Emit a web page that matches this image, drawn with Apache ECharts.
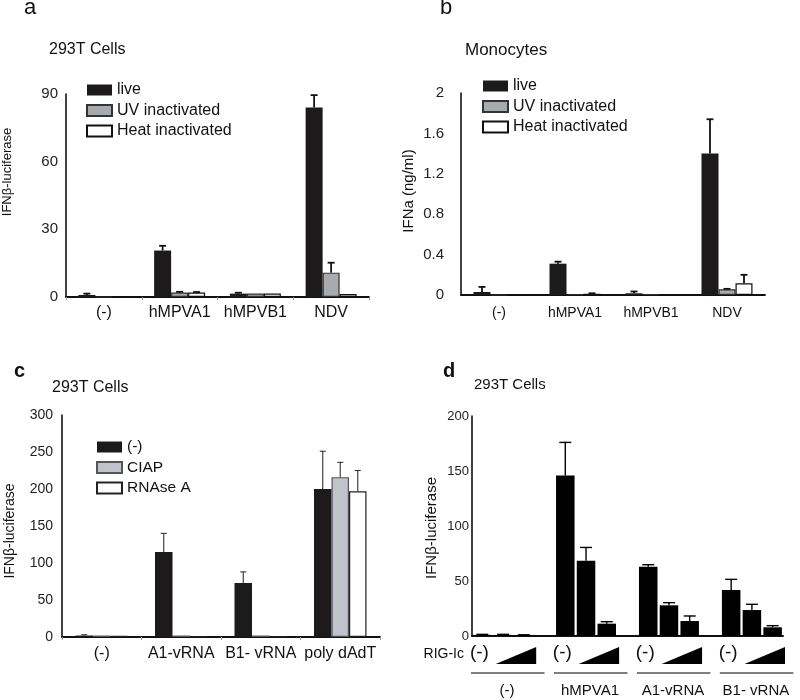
<!DOCTYPE html>
<html>
<head>
  <meta charset="utf-8">
  <title>IFN induction by hMPV</title>
  <script src="https://cdn.jsdelivr.net/npm/echarts@6/dist/echarts.min.js"></script>
  <style>html, body { margin: 0; padding: 0; background: #fff; }</style>
</head>
<body>
  <div id="main" style="width: 800px; height: 700px;"></div>
  <script type="text/javascript">
    // ---- panel a : 293T cells, IFNb-luciferase ----
    var catsA = ['(-)', 'hMPVA1', 'hMPVB1', 'NDV'];
    var liveA = [0.9, 20.6, 1.5, 84];
    var liveErrA = [0.6, 2.1, 0.4, 5.5];
    var uvA = [0, 2, 1.5, 10.8];
    var uvErrA = [0, 0.3, 0, 4.4];
    var heatA = [0, 2, 1.5, 1.3];
    var heatErrA = [0, 0.2, 0, 0];

    // ---- panel b : monocytes, IFNa (ng/ml) ----
    var catsB = ['(-)', 'hMPVA1', 'hMPVB1', 'NDV'];
    var liveB = [0.03, 0.31, 0.017, 1.40];
    var liveErrB = [0.05, 0.02, 0.018, 0.34];
    var uvB = [0, 0.005, 0.01, 0.056];
    var uvErrB = [0, 0, 0, 0.005];
    var heatB = [0, 0.012, 0.004, 0.116];
    var heatErrB = [0, 0.005, 0, 0.084];

    // ---- panel c : 293T cells, treated RNA ----
    var catsC = ['(-)', 'A1-vRNA', 'B1- vRNA', 'poly dAdT'];
    var negC = [2, 115, 73, 200];
    var negErrC = [1, 25, 15, 51];
    var ciapC = [2, 2, 2, 216];
    var ciapErrC = [0, 0, 0, 20];
    var rnaseC = [1.5, 1, 1, 197];
    var rnaseErrC = [0, 0, 0, 28];

    // ---- panel d : 293T cells, RIG-Ic dose ----
    var groupsD = ['(-)', 'hMPVA1', 'A1-vRNA', 'B1- vRNA'];
    var rigNoneD = [1, 146, 63, 41.8];
    var rigLowD = [1, 68.5, 27.9, 23.6];
    var rigHighD = [0.8, 11.2, 13.6, 7.9];
    var rigNoneErrD = [0.5, 30, 1.8, 9.7];
    var rigLowErrD = [0.5, 12, 2.4, 5.2];
    var rigHighErrD = [0.3, 1.8, 4.6, 1.5];

    var FONT = 'Liberation Sans, Arial, sans-serif';
    var BLACK = '#1c1a1b';
    var myChart = echarts.init(document.getElementById('main'));

    // 15 slots for d: 3 bars per group + an empty slot between groups
    var slotsD = [], valsD = [], errDataD = [];
    groupsD.forEach(function (g, i) {
      [[rigNoneD, rigNoneErrD], [rigLowD, rigLowErrD], [rigHighD, rigHighErrD]].forEach(function (p, k) {
        var s = slotsD.length;
        slotsD.push(g + ' ' + k);
        valsD.push(p[0][i]);
        errDataD.push([s, p[0][i], p[1][i], 0]);
      });
      if (i < groupsD.length - 1) { slotsD.push('gap' + i); valsD.push('-'); }
    });

    function errData(vals, errs) {
      var out = [];
      vals.forEach(function (v, k) {
        v.forEach(function (y, i) { out.push([i, y, errs[k][i], k]); });
      });
      return out;
    }

    function errRender(barW, nBars, lw, cap, color) {
      return function (params, api) {
        var e = api.value(2);
        if (!e) return;
        var v = api.value(1), k = api.value(3);
        var base = api.coord([api.value(0), v]);
        var top = api.coord([api.value(0), v + e]);
        var cx = base[0] + (k - (nBars - 1) / 2) * barW;
        var st = { stroke: color, lineWidth: lw };
        return {
          type: 'group', children: [
            { type: 'line', shape: { x1: cx, y1: base[1], x2: cx, y2: top[1] }, style: st },
            { type: 'line', shape: { x1: cx - cap, y1: top[1], x2: cx + cap, y2: top[1] }, style: st }
          ]
        };
      };
    }

    // RIG-Ic row, underlines and group names under panel d
    function annotRender(params, api) {
      var slot = api.value(0), g = api.value(1);
      var w = api.size([1, 0])[0];
      var p0 = api.coord([slot, 0]);
      var left = p0[0] - w / 2, y0 = p0[1];
      var txt = function (t, x, y, size, align) {
        return { type: 'text', x: x, y: y, style: { text: t, fill: '#111', font: size + 'px ' + FONT, align: align || 'center', verticalAlign: 'middle' } };
      };
      var kids = [
        txt('(-)', p0[0] - 3, y0 + 17, 19),
        { type: 'polygon', shape: { points: [[left + w + 3, y0 + 28], [left + 3 * w + 2, y0 + 11], [left + 3 * w + 2, y0 + 28]] }, style: { fill: '#000' } },
        { type: 'line', shape: { x1: left - 1, y1: y0 + 37, x2: left + 3.5 * w, y2: y0 + 37 }, style: { stroke: '#000', lineWidth: 1.2 } },
        txt(groupsD[g], left + 1.5 * w + 4, y0 + 55, 15)
      ];
      if (g === 0) kids.push(txt('RIG-Ic', left - 8, y0 + 18, 14, 'right'));
      return { type: 'group', children: kids };
    }

    function catAxis(idx, data, fs, margin, ticks) {
      return {
        type: 'category', gridIndex: idx, data: data,
        axisLine: { lineStyle: { color: '#111', width: 1.8 } },
        axisTick: { show: ticks, length: 3, lineStyle: { color: '#999' } },
        axisLabel: { color: '#111', fontSize: fs, fontFamily: FONT, margin: margin, interval: 0 }
      };
    }
    function valAxis(idx, max, step, fs, margin, fmt) {
      return {
        type: 'value', gridIndex: idx, min: 0, max: max, interval: step,
        splitLine: { show: false },
        axisLine: { show: true, lineStyle: { color: '#111', width: 1.6 } },
        axisTick: { show: false },
        axisLabel: { color: '#222', fontSize: fs, fontFamily: FONT, margin: margin, formatter: fmt }
      };
    }
    function bar(name, idx, data, color, border, bw) {
      return {
        type: 'bar', name: name, xAxisIndex: idx, yAxisIndex: idx, data: data,
        barWidth: bw, barGap: '0%',
        itemStyle: { color: color, borderColor: border, borderWidth: border ? 1.2 : 0 }
      };
    }
    function errSeries(idx, data, barW, n, lw, cap, color) {
      return {
        type: 'custom', xAxisIndex: idx, yAxisIndex: idx, data: data, z: 5,
        renderItem: errRender(barW, n, lw, cap, color)
      };
    }
    function legend(names, left, top, fs) {
      return {
        data: names, orient: 'vertical', left: left, top: top, padding: 0,
        icon: 'rect', itemWidth: 25, itemHeight: 11, itemGap: 4.5, selectedMode: false,
        textStyle: { color: '#111', fontSize: fs, fontFamily: FONT, lineHeight: 16 }
      };
    }
    function label(t, x, y, size, weight, rot) {
      return {
        type: 'text', x: x, y: y, rotation: rot || 0,
        style: { text: t, fill: '#111', font: (weight || 'normal') + ' ' + size + 'px ' + FONT, align: rot ? 'center' : 'left', verticalAlign: 'middle' }
      };
    }

    var option = {
      animation: false,
      graphic: [
        label('a', 24, 8, 22), label('b', 440, 8, 22),
        label('c', 14, 371, 20, 'bold'), label('d', 443, 371, 20, 'bold'),
        label('293T Cells', 49, 50, 16), label('Monocytes', 465, 50, 17),
        label('293T Cells', 52, 388, 16), label('293T Cells', 474, 385, 15),
        label('IFNβ-luciferase', 7, 172, 13, 'normal', Math.PI / 2),
        label('IFNa (ng/ml)', 409, 191, 15, 'normal', Math.PI / 2),
        label('IFNβ-luciferase', 10, 531, 14, 'normal', Math.PI / 2),
        label('IFNβ-luciferase', 432, 528, 15, 'normal', Math.PI / 2)
      ],
      legend: [
        legend(['live', 'UV inactivated', 'Heat inactivated'], 86, 82, 16),
        legend(['live', 'UV inactivated', 'Heat inactivated'], 482, 78, 16),
        legend(['(-)', 'CIAP', 'RNAse A'], 96, 439, 15.5)
      ],
      grid: [
        { left: 66, top: 94, width: 303, height: 203 },
        { left: 461, top: 93, width: 304, height: 202 },
        { left: 62, top: 415, width: 318, height: 222 },
        { left: 472, top: 416, width: 311, height: 220 }
      ],
      xAxis: [
        catAxis(0, catsA, 16, 8, true),
        catAxis(1, catsB, 14, 11, false),
        catAxis(2, catsC, 16, 9, true),
        { type: 'category', gridIndex: 3, data: slotsD, axisLine: { lineStyle: { color: '#111', width: 2 } }, axisTick: { show: false }, axisLabel: { show: false } }
      ],
      yAxis: [
        valAxis(0, 90, 30, 15, 8),
        valAxis(1, 2, 0.4, 15, 17, function (v) { return +v.toFixed(1) + ''; }),
        valAxis(2, 300, 50, 14, 9),
        valAxis(3, 200, 50, 13, 3)
      ],
      series: [
        bar('live', 0, liveA, BLACK, null, 17),
        bar('UV inactivated', 0, uvA, '#a8abae', '#333', 17),
        bar('Heat inactivated', 0, heatA, '#fff', '#111', 17),
        errSeries(0, errData([liveA, uvA, heatA], [liveErrA, uvErrA, heatErrA]), 17, 3, 1.8, 3.5, '#111'),

        bar('live', 1, liveB, BLACK, null, 17),
        bar('UV inactivated', 1, uvB, '#a8abae', '#333', 17),
        bar('Heat inactivated', 1, heatB, '#fff', '#111', 17),
        errSeries(1, errData([liveB, uvB, heatB], [liveErrB, uvErrB, heatErrB]), 17, 3, 1.8, 3.5, '#111'),

        bar('(-)', 2, negC, BLACK, null, 17.5),
        bar('CIAP', 2, ciapC, '#c0c3c9', '#555', 17.5),
        bar('RNAse A', 2, rnaseC, '#fff', '#222', 17.5),
        errSeries(2, errData([negC, ciapC, rnaseC], [negErrC, ciapErrC, rnaseErrC]), 17.5, 3, 1.1, 3, '#333'),

        { type: 'bar', xAxisIndex: 3, yAxisIndex: 3, data: valsD, barWidth: 18.5, itemStyle: { color: '#000' } },
        errSeries(3, errDataD, 0, 1, 1.4, 6, '#000'),
        {
          type: 'custom', xAxisIndex: 3, yAxisIndex: 3, clip: false, z: 5,
          data: groupsD.map(function (g, i) { return [i * 4, i]; }),
          renderItem: annotRender
        }
      ]
    };

    myChart.setOption(option);
  </script>
</body>
</html>
